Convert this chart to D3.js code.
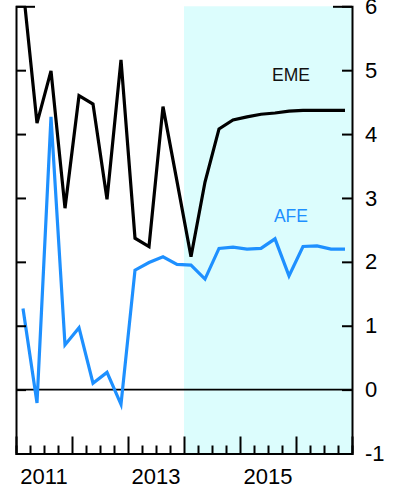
<!DOCTYPE html>
<html>
<head>
<meta charset="utf-8">
<script src="https://cdn.jsdelivr.net/npm/d3@7"></script>
<style>
  html, body { margin: 0; padding: 0; background: #fff; }
  svg { display: block; font-family: "Liberation Sans", Arial, Helvetica, sans-serif; }
</style>
</head>
<body>
<svg id="chart" width="398" height="491"></svg>
<script>
// ---- data (quarterly, 2011Q1 .. 2016Q4) ----
const quarters = d3.range(24).map(i => 2011 + (i + 0.5) / 4);
const emeValues = [6.3, 4.17, 4.99, 2.84, 4.60, 4.47, 2.98, 5.16, 2.37, 2.24, 4.43, 3.26,
                   2.08, 3.25, 4.08, 4.22, 4.27, 4.31, 4.33, 4.36, 4.37, 4.37, 4.37, 4.37];
const afeValues = [1.27, -0.21, 4.27, 0.70, 0.97, 0.10, 0.27, -0.23, 1.87, 1.99, 2.08, 1.96,
                   1.95, 1.73, 2.21, 2.23, 2.20, 2.21, 2.36, 1.78, 2.24, 2.25, 2.20, 2.20];
const yTicks = [6, 5, 4, 3, 2, 1, 0, -1];
const yearLabels = [2011, 2013, 2015];
const shadeStart = 2014, shadeEnd = 2017;
const seriesLabels = [{name: "EME", at: [2015.91, 4.83], color: "#111"},
                      {name: "AFE", at: [2015.91, 2.62], color: "#1e90ff"}];

const svg = d3.select("#chart");
const L = 16, R = 352, T = 6.3, B = 453.5;
const x = d3.scaleLinear().domain([2011, 2017]).range([L, R]);
const y = d3.scaleLinear().domain([-1, 6]).range([B, T]);

svg.append("defs").append("clipPath").attr("id", "clip")
  .append("rect").attr("x", L).attr("y", T).attr("width", R - L).attr("height", B - T);

// shading
svg.append("rect")
  .attr("x", x(shadeStart)).attr("y", T)
  .attr("width", x(shadeEnd) - x(shadeStart)).attr("height", B - T)
  .attr("fill", "#dcfdfd");

// zero line
svg.append("line")
  .attr("x1", L).attr("x2", R).attr("y1", y(0)).attr("y2", y(0))
  .attr("stroke", "#000").attr("stroke-width", 1.6);

const line = d3.line().x((d, i) => x(quarters[i])).y(d => y(d));
const g = svg.append("g").attr("clip-path", "url(#clip)");
g.append("path").datum(afeValues).attr("d", line)
  .attr("fill", "none").attr("stroke", "#1e90ff").attr("stroke-width", 3.2).attr("stroke-linejoin", "miter");
g.append("path").datum(emeValues).attr("d", line)
  .attr("fill", "none").attr("stroke", "#000").attr("stroke-width", 3.2).attr("stroke-linejoin", "miter");

// left axis (no labels)
const la = svg.append("g").attr("transform", `translate(${L},0)`)
  .call(d3.axisLeft(y).tickValues(yTicks).tickSize(-10).tickFormat(""));
// right axis (labels)
const ra = svg.append("g").attr("transform", `translate(${R},0)`)
  .call(d3.axisRight(y).tickValues(yTicks).tickSize(-10).tickPadding(13).tickFormat(d => String(d)));
[la, ra].forEach(a => {
  a.select(".domain").attr("stroke", "#000").attr("stroke-width", 2);
  a.selectAll(".tick line").attr("stroke", "#000").attr("stroke-width", 2);
  a.selectAll(".tick text").attr("font-size", 22).attr("fill", "#000");
});
la.selectAll(".tick line").filter(d => d === 6).attr("x2", 19);
ra.selectAll(".tick line").filter(d => d === 6).attr("x2", -19);

// bottom axis
const qTicks = d3.range(0, 25).map(i => 2011 + i / 4);
const ba = svg.append("g").attr("transform", `translate(0,${B})`)
  .call(d3.axisBottom(x).tickValues(qTicks).tickSize(-8).tickFormat(""));
ba.select(".domain").attr("stroke", "#000").attr("stroke-width", 2);
ba.selectAll(".tick line").attr("stroke", "#000").attr("stroke-width", 2)
  .attr("y2", d => Math.abs(d - Math.round(d)) < 1e-6 ? -17 : -8);

svg.append("g").selectAll("text").data(yearLabels).join("text")
  .attr("x", d => x(d + 0.5)).attr("y", 484)
  .attr("text-anchor", "middle").attr("font-size", 22).attr("fill", "#000")
  .text(d => d);

svg.append("g").selectAll("text").data(seriesLabels).join("text")
  .attr("x", d => x(d.at[0])).attr("y", d => y(d.at[1]))
  .attr("text-anchor", "middle").attr("font-size", 17.5).attr("fill", d => d.color)
  .text(d => d.name);
</script>
</body>
</html>
